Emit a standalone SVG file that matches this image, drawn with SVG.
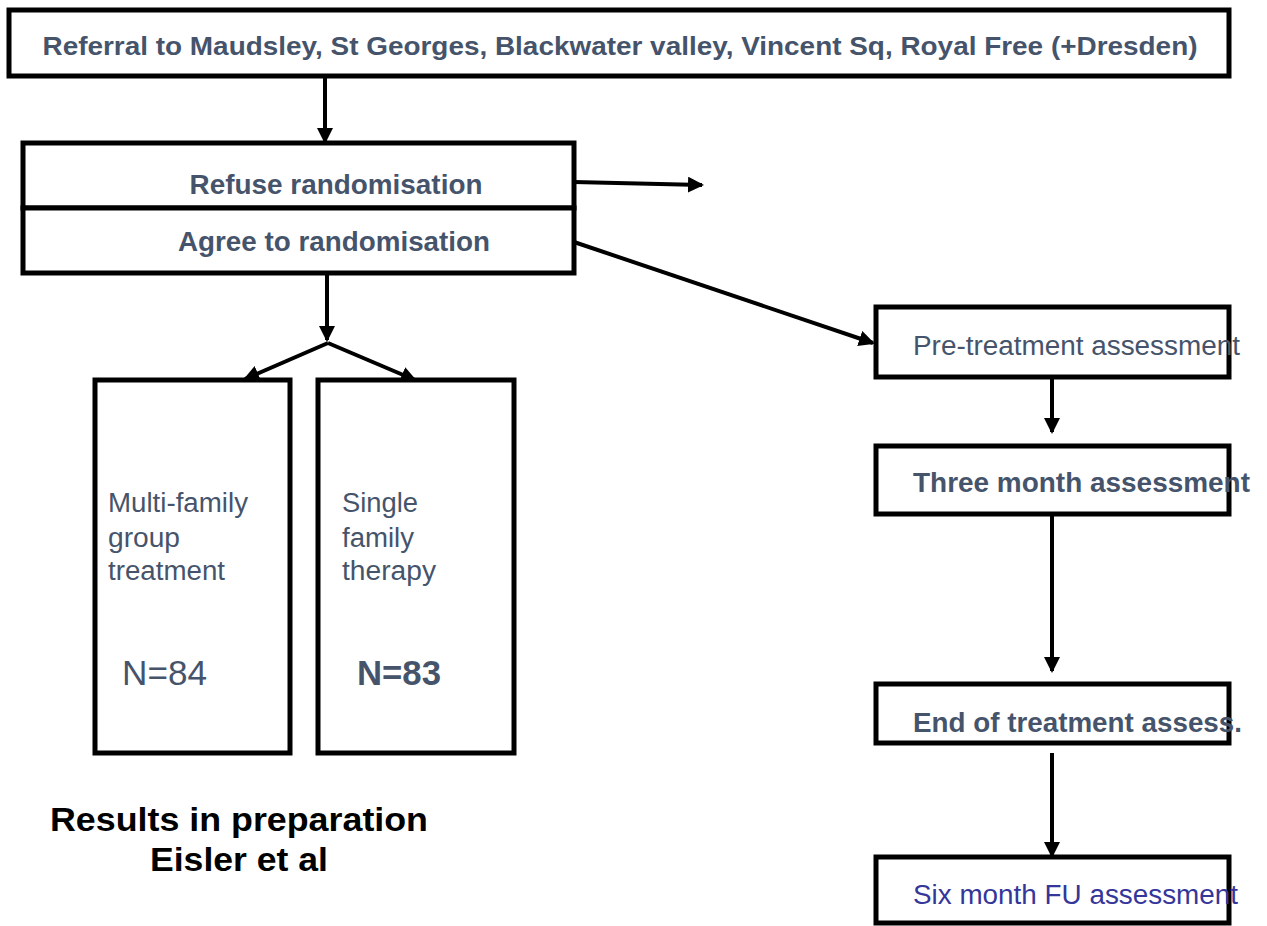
<svg xmlns="http://www.w3.org/2000/svg" width="1267" height="926" viewBox="0 0 1267 926">
<style>
.box{fill:#fff;stroke:#000;stroke-width:5}
.t{font-family:"Liberation Sans",Arial,sans-serif;fill:#46546b}
.b{font-weight:bold}
.c{stroke:#000;stroke-width:4;fill:none}
.r{font-family:"Liberation Sans",Arial,sans-serif;font-weight:bold;font-size:34px;fill:#000}
</style>
<defs>
<marker id="ah" markerWidth="4" markerHeight="4" refX="3.5" refY="2" orient="auto" markerUnits="strokeWidth">
<path d="M0,0 L4,2 L0,4 Z" fill="#000"/>
</marker>
</defs>
<rect width="1267" height="926" fill="#fff"/>
<g id="connectors">
<line class="c" x1="325" y1="77" x2="325" y2="142" marker-end="url(#ah)"/>
<line class="c" x1="574" y1="182" x2="702" y2="185" marker-end="url(#ah)"/>
<line class="c" x1="574" y1="242" x2="873" y2="343" marker-end="url(#ah)"/>
<line class="c" x1="327" y1="273" x2="327" y2="340" marker-end="url(#ah)"/>
<line class="c" x1="328" y1="343" x2="245" y2="379" marker-end="url(#ah)"/>
<line class="c" x1="328" y1="343" x2="415" y2="380" marker-end="url(#ah)"/>
<line class="c" x1="1052" y1="377" x2="1052" y2="432" marker-end="url(#ah)"/>
<line class="c" x1="1052" y1="514" x2="1052" y2="671" marker-end="url(#ah)"/>
<line class="c" x1="1052" y1="753" x2="1052" y2="856" marker-end="url(#ah)"/>
</g>
<g id="referral">
<rect class="box" x="9" y="10" width="1220" height="66"/>
<text class="t b" x="620" y="55" font-size="25" text-anchor="middle" textLength="1155" lengthAdjust="spacingAndGlyphs">Referral to Maudsley, St Georges, Blackwater valley, Vincent Sq, Royal Free (+Dresden)</text>
</g>
<g id="refuse">
<rect class="box" x="23" y="143" width="551" height="65"/>
<text class="t b" x="336" y="194" font-size="27" text-anchor="middle" textLength="293" lengthAdjust="spacingAndGlyphs">Refuse randomisation</text>
</g>
<g id="agree">
<rect class="box" x="23" y="208" width="551" height="65"/>
<text class="t b" x="334" y="251" font-size="27" text-anchor="middle" textLength="312" lengthAdjust="spacingAndGlyphs">Agree to randomisation</text>
</g>
<g id="multi">
<rect class="box" x="95" y="380" width="195" height="373"/>
<text class="t" font-size="27"><tspan x="108" y="512" textLength="140" lengthAdjust="spacingAndGlyphs">Multi-family</tspan><tspan x="108" y="547" textLength="72" lengthAdjust="spacingAndGlyphs">group</tspan><tspan x="108" y="580" textLength="117" lengthAdjust="spacingAndGlyphs">treatment</tspan></text>
<text class="t" x="122" y="685" font-size="35" textLength="85" lengthAdjust="spacingAndGlyphs">N=84</text>
</g>
<g id="single">
<rect class="box" x="318" y="380" width="196" height="373"/>
<text class="t" font-size="27"><tspan x="342" y="512" textLength="76" lengthAdjust="spacingAndGlyphs">Single</tspan><tspan x="342" y="547" textLength="72" lengthAdjust="spacingAndGlyphs">family</tspan><tspan x="342" y="580" textLength="94" lengthAdjust="spacingAndGlyphs">therapy</tspan></text>
<text class="t b" x="357" y="685" font-size="35" textLength="84" lengthAdjust="spacingAndGlyphs">N=83</text>
</g>
<g id="results">
<text class="r" x="239" y="831" text-anchor="middle" textLength="378" lengthAdjust="spacingAndGlyphs">Results in preparation</text>
<text class="r" x="239" y="871" text-anchor="middle" textLength="178" lengthAdjust="spacingAndGlyphs">Eisler et al</text>
</g>
<g id="pre">
<rect class="box" x="876" y="307" width="353" height="70"/>
<text class="t" x="913" y="355" font-size="27" textLength="327" lengthAdjust="spacingAndGlyphs">Pre-treatment assessment</text>
</g>
<g id="three">
<rect class="box" x="876" y="446" width="353" height="68"/>
<text class="t b" x="913" y="492" font-size="27" textLength="337" lengthAdjust="spacingAndGlyphs">Three month assessment</text>
</g>
<g id="end">
<rect class="box" x="876" y="684" width="353" height="59"/>
<text class="t b" x="913" y="732" font-size="27" textLength="329" lengthAdjust="spacingAndGlyphs">End of treatment assess.</text>
</g>
<g id="six">
<rect class="box" x="876" y="857" width="353" height="66"/>
<text class="t" x="913" y="904" font-size="27" style="fill:#35369a" textLength="325" lengthAdjust="spacingAndGlyphs">Six month FU assessment</text>
</g>
</svg>
